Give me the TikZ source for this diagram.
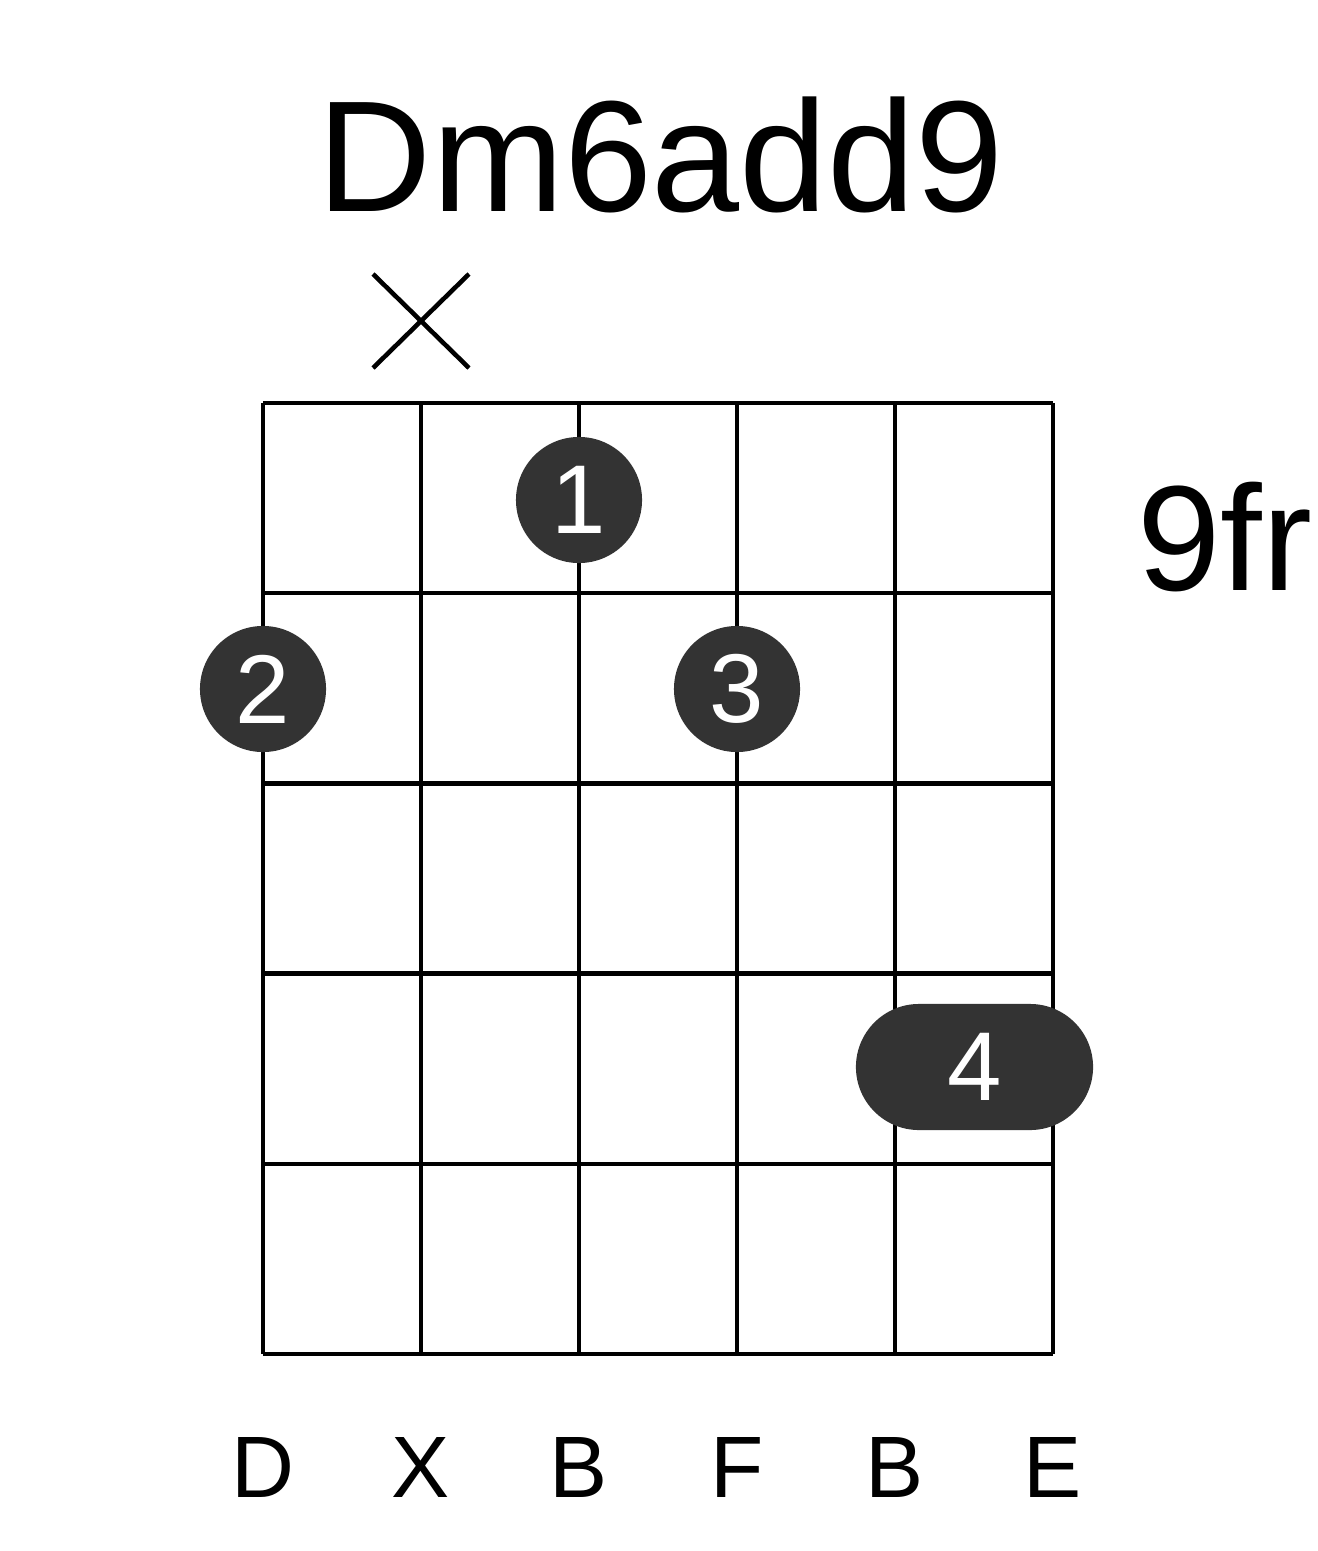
\documentclass[tikz,border=0pt]{standalone}
\usepackage{fontspec}
\setmainfont{Liberation Sans}
\usetikzlibrary{shapes.misc}
\definecolor{dotgray}{HTML}{333333}
\begin{document}
\begin{tikzpicture}[x=0.01cm, y=-0.01cm,
    grid/.style={line width=1.3pt},
    finger/.style={circle, fill=dotgray, text=white, inner sep=0pt,
      minimum size=1.26cm, font=\fontsize{27.8}{30}\selectfont},
    barre/.style={rounded rectangle, fill=dotgray, text=white, inner sep=0pt,
      minimum height=1.26cm, minimum width=2.37cm, font=\fontsize{27.8}{30}\selectfont},
    note/.style={anchor=base, font=\fontsize{24.8}{28}\selectfont}]
    \useasboundingbox (0,0) rectangle (1317,1551);

    % Nome do acorde e casa
    \node[anchor=base, font=\fontsize{45}{50}\selectfont] (title) at (661,211) {Dm6add9};
    \node[anchor=base, font=\fontsize{42.6}{46}\selectfont] (fret) at (1225,590) {9fr};

    % Grade: cordas e trastes
    \foreach \s in {0,...,5}
        \draw[grid] (263+158*\s,403) -- (263+158*\s,1354);
    \foreach \f in {0,...,5}
        \draw[grid] (263,403+190.2*\f) -- (1053,403+190.2*\f);

    % Corda abafada
    \draw[grid] (373,274) -- (469,368);
    \draw[grid] (373,368) -- (469,274);

    % Dedos
    \node[finger] (d1) at (579,500) {1};
    \node[finger] (d2) at (263,689) {2};
    \node[finger] (d3) at (737,689) {3};
    \node[barre] (d4) at (974.5,1067) {4};

    % Notas das cordas
    \foreach \n [count=\i from 0] in {D,X,B,F,B,E}
        \node[note] (n\i) at (263+158*\i,1497) {\n};
\end{tikzpicture}
\end{document}
